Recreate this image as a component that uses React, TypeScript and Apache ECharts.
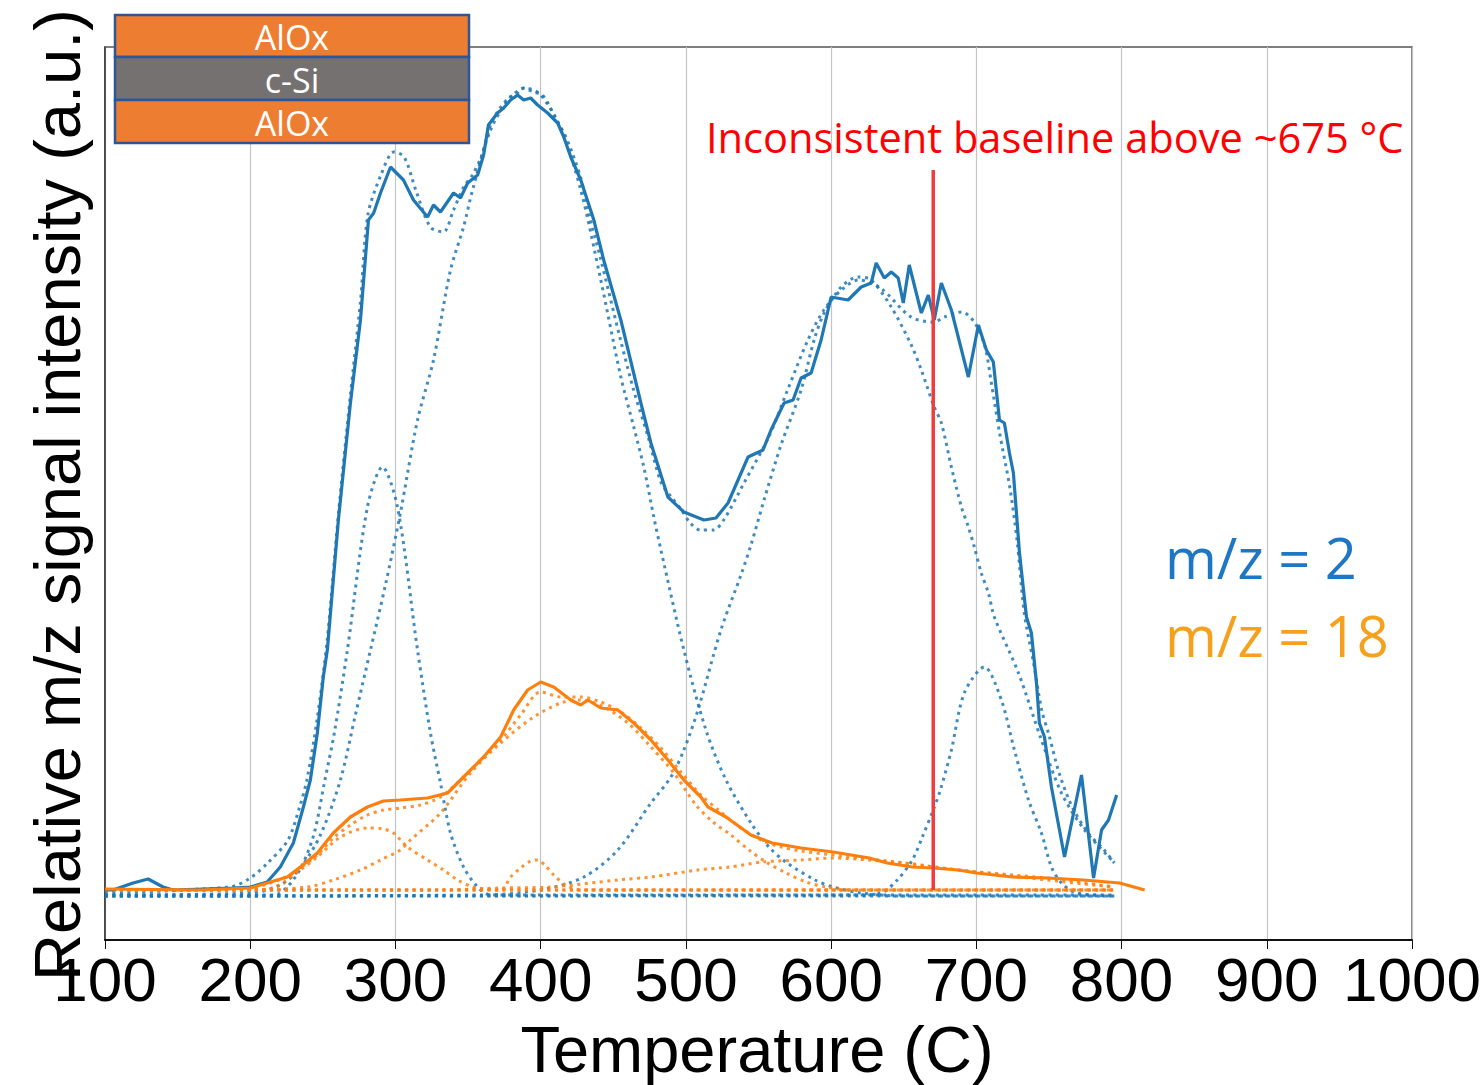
import React, { useEffect, useRef } from "react";
import * as echarts from "echarts";

// Temperature (°C), relative intensity (a.u.)
const X_TICKS = [100, 200, 300, 400, 500, 600, 700, 800, 900, 1000];

// m/z = 2 measured
const H2_MEASURED: number[][] = [
  [100, 50], [105.5, 50], [119.3, 57], [129.7, 61], [140, 53], [146.9, 50], [188.3, 52], [200, 53],
  [211.7, 58], [220.7, 73], [229.7, 97], [236.6, 133], [241.4, 160], [246.2, 207], [250.3, 263],
  [253.1, 290], [260.7, 420], [269, 537], [275.9, 620], [281.4, 720], [285, 727], [289.7, 747],
  [296.6, 773], [305.5, 760], [312.4, 740], [322.1, 723], [326.2, 735], [331, 728], [340, 747],
  [344.8, 742], [349.7, 757], [356.6, 765], [360.7, 785], [364, 815], [370.3, 827], [374.5, 832],
  [379.3, 840], [384.1, 845], [388.3, 840], [393.1, 842], [397.9, 835], [404.8, 827], [411.7, 817],
  [415.9, 803], [420.7, 783], [427.6, 760], [436.6, 720], [443.4, 680], [455.2, 620], [469, 537],
  [475.9, 497], [487.6, 443], [498.6, 428], [512.4, 420], [520.7, 422], [529, 437], [542.8, 483],
  [553.1, 490], [558.6, 510], [567.6, 537], [573.8, 540], [579.3, 562], [586.2, 567], [593.1, 600],
  [600, 643], [611.7, 640], [620.7, 653], [627.6, 657], [631, 677], [636.6, 662], [641.4, 668],
  [646.2, 662], [649.7, 637], [653.8, 675], [662.1, 627], [666.9, 645], [671, 620], [675.9, 657],
  [682.8, 630], [694.5, 563], [701.4, 615], [706.9, 590], [711.7, 578], [715.9, 520], [719.3, 517],
  [722.8, 487], [725.5, 467], [729.7, 387], [734.5, 323], [737.9, 307], [741.4, 257], [743.4, 217],
  [746.9, 203], [751.7, 153], [760.7, 83], [772.4, 165], [780.7, 62], [786.2, 110], [791, 120],
  [796.6, 145],
];

// m/z = 2 fitted envelope
const H2_FIT_SUM: number[][] = [
  [100, 47], [186, 53], [200, 62], [212, 77], [226, 100], [234, 133], [239, 160], [246, 220],
  [253, 300], [261, 430], [269, 545], [276, 640], [281, 725], [290, 765], [299, 788], [306, 783],
  [314, 750], [324, 713], [333, 708], [340, 730], [347, 753], [353, 765], [359, 783], [363, 803],
  [366, 817], [372, 832], [378, 842], [384, 847], [388, 852], [395, 848], [401, 845], [405, 837],
  [410, 822], [416, 807], [421, 790], [428, 760], [434, 722], [441, 683], [455, 600], [464, 550],
  [474, 503], [483, 457], [490, 443], [497, 430], [503, 417], [510, 410], [519, 410], [526, 420],
  [540, 457], [557, 503], [570, 550], [584, 600], [595, 630], [607, 650], [619, 660], [634, 652],
  [655, 623], [671, 618], [678, 623], [690, 628], [699, 617], [706, 593], [710, 560], [716, 507],
  [723, 453], [728, 400], [733, 327], [739, 280], [745, 230], [750, 205], [757, 167], [766, 133],
  [777, 107], [788, 90], [795, 77],
];

// m/z = 2 fitted peaks
const H2_PEAK_290: number[][] = [
  [100, 45], [216.6, 45], [225.5, 53], [235.2, 73], [244.1, 107], [251, 157], [257.9, 207],
  [266.9, 290], [280.7, 433], [291, 473], [301.4, 433], [315.2, 290], [324.1, 207], [331, 157],
  [337.9, 107], [346.9, 73], [356.6, 53], [365.5, 45], [795, 45],
];
const H2_PEAK_390: number[][] = [
  [100, 45], [200, 47], [220.7, 55], [234.5, 72], [248.3, 105], [262.1, 160], [272.4, 225],
  [282.8, 290], [293.1, 355], [303.4, 427], [315.2, 520], [326.2, 580], [337.9, 670], [346.9, 713],
  [353.1, 750], [365.5, 810], [379.3, 843], [389.7, 852], [400, 845], [413.8, 812], [427.6, 750],
  [441.4, 660], [455.2, 563], [464.1, 513], [471, 473], [477.9, 423], [482.8, 390], [498.6, 290],
  [513.8, 210], [527.6, 160], [544.8, 117], [557.2, 93], [569.7, 77], [589, 60], [601.4, 53],
  [620.7, 47], [648.3, 44], [795, 44],
];
const H2_PEAK_620: number[][] = [
  [100, 44], [358.6, 45], [400, 50], [429.7, 63], [453.1, 90], [475.9, 137], [489.7, 163],
  [498.6, 190], [508.3, 230], [524.1, 310], [537.9, 365], [544.8, 395], [553.8, 440], [565.5, 495],
  [579.3, 550], [588.3, 600], [595.2, 627], [606.9, 653], [618.6, 663], [627.6, 660], [641.4, 633],
  [655.2, 595], [662.1, 570], [671, 533], [675.9, 517], [682.8, 473], [689.7, 433], [694.5, 413],
  [698.6, 393], [703.4, 367], [708.3, 347], [712.4, 323], [729, 267], [744.8, 200], [758.6, 147],
  [774.5, 110], [795.2, 77],
];
const H2_PEAK_705: number[][] = [
  [100, 44], [620, 45], [634.5, 47], [645.5, 60], [655.9, 80], [662.8, 103], [670.3, 130],
  [675.2, 150], [682.8, 190], [691.7, 247], [705.5, 273], [717.2, 240], [726.2, 190], [735.9, 140],
  [744.8, 107], [751.7, 73], [758.6, 57], [769, 47], [795, 44],
];
const H2_BASELINE: number[][] = [[100, 44], [795, 44]];

// m/z = 18 measured
const H2O_MEASURED: number[][] = [
  [100, 51], [165.5, 50], [200, 52], [211.7, 57], [225.5, 63], [234.5, 73], [246.2, 87], [257.2, 107],
  [269, 123], [280.7, 133], [291.7, 139], [303.4, 140], [322.1, 142], [335.9, 147], [346.9, 163],
  [360.7, 183], [372.4, 203], [381.4, 230], [391, 250], [400, 258], [409, 253], [420.7, 240],
  [427.6, 235], [432.4, 240], [441.4, 232], [453.1, 230], [464.1, 217], [475.9, 200], [487.6, 180],
  [498.6, 160], [510.3, 143], [515.2, 133], [527.6, 123], [544.8, 105], [559.3, 97], [579.3, 92],
  [601.4, 88], [626.2, 82], [638.6, 77], [655.9, 73], [670.3, 72], [687.6, 70], [700, 67],
  [724.8, 63], [749, 62], [773.8, 60], [798.6, 57], [815.9, 50],
];
// m/z = 18 fitted envelope
const H2O_FIT_SUM: number[][] = [
  [100, 50], [200, 52], [213.8, 57], [227.6, 65], [234.5, 72], [246.2, 85], [257.2, 102], [269, 115],
  [280.7, 125], [291.7, 130], [303.4, 132], [317.2, 135], [331, 143], [344.8, 160], [358.6, 180],
  [372.4, 200], [386.2, 225], [400, 248], [413.8, 243], [427.6, 243], [441.4, 238], [455.2, 228],
  [469, 212], [482.8, 192], [496.6, 168], [510.3, 145], [524.1, 128], [537.9, 112], [551.7, 100],
  [565.5, 93], [579.3, 89], [601.4, 85], [626.2, 81], [648.3, 77], [670.3, 73], [700, 68],
  [724.8, 64], [749, 60], [773.8, 56], [795.2, 53],
];
// m/z = 18 fitted peaks
const H2O_PEAK_283: number[][] = [
  [100, 50], [200, 50], [217, 53], [234.5, 70], [246.2, 83], [262.1, 103], [280.7, 112],
  [291.7, 111], [298.6, 107], [308.3, 93], [322.1, 80], [333.1, 70], [342.8, 60], [353.8, 53],
  [372.4, 50], [795, 50],
];
const H2O_PEAK_425: number[][] = [
  [100, 50], [200, 50], [239.3, 53], [257.2, 60], [275.9, 70], [289.7, 80], [303.4, 90], [310.3, 100],
  [331, 127], [351.7, 167], [372.4, 197], [395.2, 223], [413.8, 237], [427.6, 240], [443.4, 233],
  [460, 217], [475.9, 193], [491.7, 167], [506.9, 135], [518.6, 118], [531, 105], [543.4, 90],
  [555.2, 78], [569, 67], [582.8, 58], [596.6, 53], [613.8, 50], [795, 50],
];
const H2O_PEAK_398: number[][] = [
  [100, 50], [372.4, 50], [379.3, 63], [386.2, 72], [393.1, 79], [397.9, 80], [403.4, 74],
  [409, 65], [417.2, 55], [427.6, 50], [795, 50],
];
const H2O_PEAK_600: number[][] = [
  [100, 50], [331, 50], [372.4, 52], [406.9, 53], [453.1, 60], [475.9, 63], [508.3, 70], [530.3, 73],
  [552.4, 78], [579.3, 80], [601.4, 82], [626.2, 80], [651, 77], [687.6, 70], [724.8, 65],
  [761.4, 60], [793.8, 53],
];
const H2O_BASELINE: number[][] = [[100, 50], [795, 50]];

// Marker at ~670 °C
const BASELINE_MARK: number[][] = [[670.3, 50], [670.3, 770]];

const BLUE = "#1f77b4";
const ORANGE = "#ff7f0e";

function fit(data: number[][], color: string) {
  return {
    type: "line",
    data,
    showSymbol: false,
    symbol: "none",
    smooth: 0.3,
    silent: true,
    lineStyle: { color, width: 3, type: [3, 4.5], opacity: 0.85 },
    z: 2,
  };
}
function measured(data: number[][], color: string) {
  return {
    type: "line",
    data,
    showSymbol: false,
    symbol: "none",
    silent: true,
    lineStyle: { color, width: 3.2 },
    z: 3,
  };
}

const BOX_FONT = "Open Sans, sans-serif";

export default function App() {
  const ref = useRef<HTMLDivElement>(null);
  useEffect(() => {
    if (!ref.current) return;
    const chart = echarts.init(ref.current, undefined, { renderer: "svg" });
    const boxText = (text: string, y: number) => ({
      type: "text", x: 292, y, z: 31,
      style: { text, fontSize: 34, lineHeight: 30, fontFamily: BOX_FONT, fill: "#fff", align: "center", verticalAlign: "middle" },
    });
    const boxRect = (y: number, h: number, fill: string) => ({
      type: "rect", z: 30,
      shape: { x: 115, y, width: 354, height: h },
      style: { fill, stroke: "#2f5597", lineWidth: 2.5 },
    });
    const option: any = {
      animation: false,
      backgroundColor: "#ffffff",
      grid: {
        left: 105, right: 67, top: 47, bottom: 145,
        show: true, borderColor: "#555555", borderWidth: 1.5,
      },
      xAxis: {
        type: "value",
        min: X_TICKS[0],
        max: X_TICKS[X_TICKS.length - 1],
        interval: 100,
        axisLine: { show: true, lineStyle: { color: "#111", width: 2 } },
        axisTick: { show: true, inside: false, length: 9, lineStyle: { color: "#111", width: 1 } },
        axisLabel: {
          color: "#000", fontSize: 62, fontFamily: "Liberation Sans, Arial, sans-serif", margin: 8,
          formatter: (v: number) => String(v),
        },
        splitLine: { show: true, lineStyle: { color: "#c4c4c4", width: 1.2 } },
      },
      yAxis: {
        type: "value",
        min: 0,
        max: 893,
        axisLine: { show: true, lineStyle: { color: "#333", width: 1.5 } },
        axisTick: { show: false },
        axisLabel: { show: false },
        splitLine: { show: false },
      },
      series: [
        fit(H2_BASELINE, BLUE),
        fit(H2_PEAK_290, BLUE),
        fit(H2_PEAK_390, BLUE),
        fit(H2_PEAK_620, BLUE),
        fit(H2_PEAK_705, BLUE),
        fit(H2_FIT_SUM, BLUE),
        measured(H2_MEASURED, BLUE),
        fit(H2O_BASELINE, ORANGE),
        fit(H2O_PEAK_283, ORANGE),
        fit(H2O_PEAK_425, ORANGE),
        fit(H2O_PEAK_398, ORANGE),
        fit(H2O_PEAK_600, ORANGE),
        fit(H2O_FIT_SUM, ORANGE),
        measured(H2O_MEASURED, ORANGE),
        {
          type: "line",
          data: BASELINE_MARK,
          showSymbol: false,
          symbol: "none",
          silent: true,
          lineStyle: { color: "#f23b3b", width: 3.5 },
          z: 5,
        },
      ],
      graphic: [
        {
          type: "text",
          x: 57, y: 495, rotation: Math.PI / 2, z: 10,
          style: {
            text: "Relative m/z signal intensity (a.u.)",
            fontSize: 65, fontFamily: "Liberation Sans, Arial, sans-serif",
            fill: "#000", align: "center", verticalAlign: "middle",
          },
        },
        {
          type: "text",
          x: 757, y: 1049, z: 10,
          style: {
            text: "Temperature (C)",
            fontSize: 65, fontFamily: "Liberation Sans, Arial, sans-serif",
            fill: "#000", align: "center", verticalAlign: "middle",
          },
        },
        {
          type: "text",
          x: 706, y: 136, z: 10, scaleX: 0.99,
          style: {
            text: "Inconsistent baseline above ~675 °C",
            fontSize: 42, fontFamily: "Open Sans, sans-serif",
            fill: "#ff0000", align: "left", verticalAlign: "middle",
          },
        },
        {
          type: "text",
          x: 1165, y: 557, z: 10,
          style: {
            text: "m/z = 2",
            fontSize: 56, fontFamily: "Open Sans, sans-serif",
            fill: "#1d77c4", align: "left", verticalAlign: "middle",
          },
        },
        {
          type: "text",
          x: 1165, y: 635, z: 10,
          style: {
            text: "m/z = 18",
            fontSize: 56, fontFamily: "Open Sans, sans-serif",
            fill: "#f6a11d", align: "left", verticalAlign: "middle",
          },
        },
        boxRect(15, 42, "#ed7d31"),
        boxRect(57, 43, "#767171"),
        boxRect(100, 43, "#ed7d31"),
        boxText("AlOx", 37),
        boxText("c-Si", 80),
        boxText("AlOx", 123),
      ],
    };
    chart.setOption(option);
    return () => chart.dispose();
  }, []);
  return (
    <div
      ref={ref}
      style={{ position: "fixed", left: 0, top: 0, width: 1484, height: 1085, background: "#fff" }}
    />
  );
}
